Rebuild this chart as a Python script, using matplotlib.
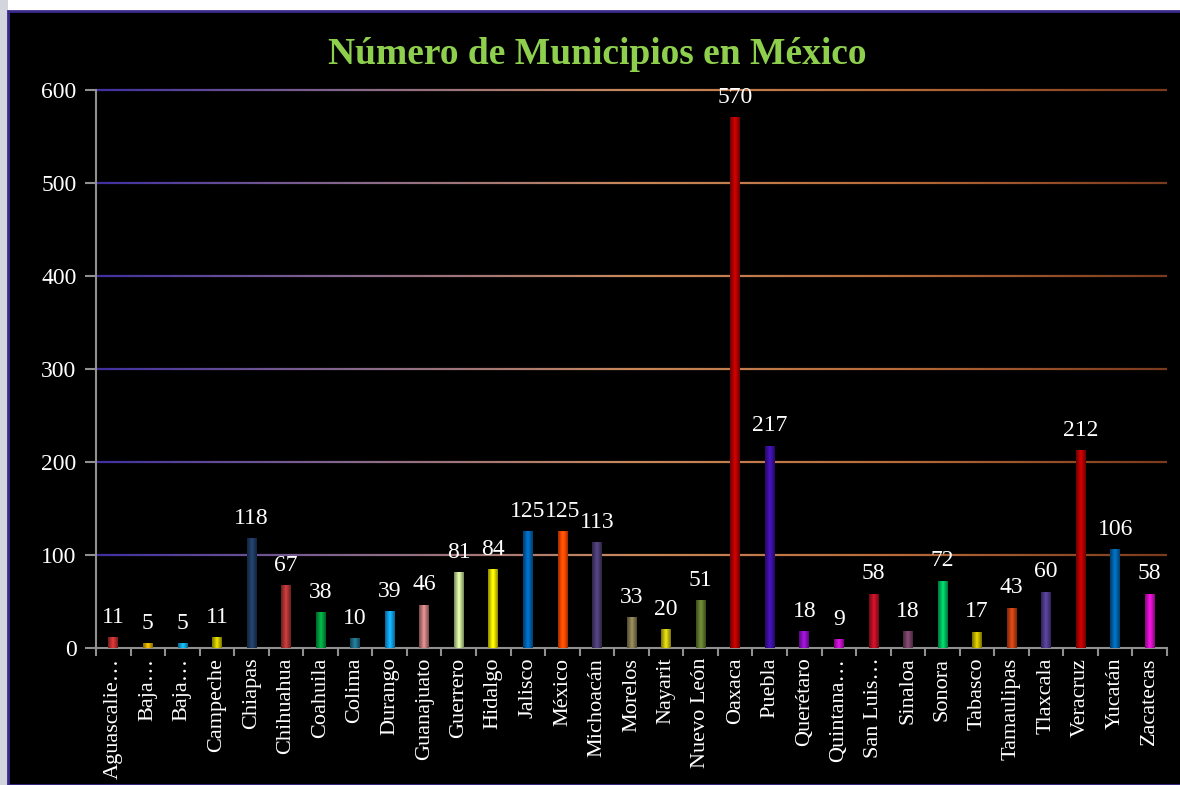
import matplotlib
matplotlib.use("Agg")
import matplotlib.pyplot as plt
import numpy as np
from matplotlib.collections import LineCollection
from matplotlib.colors import to_rgb
from matplotlib.patches import Rectangle

estados = ["Aguascalie…", "Baja…", "Baja…", "Campeche", "Chiapas", "Chihuahua",
           "Coahuila", "Colima", "Durango", "Guanajuato", "Guerrero", "Hidalgo",
           "Jalisco", "México", "Michoacán", "Morelos", "Nayarit", "Nuevo León",
           "Oaxaca", "Puebla", "Querétaro", "Quintana…", "San Luis…", "Sinaloa",
           "Sonora", "Tabasco", "Tamaulipas", "Tlaxcala", "Veracruz", "Yucatán",
           "Zacatecas"]
municipios = [11, 5, 5, 11, 118, 67, 38, 10, 39, 46, 81, 84, 125, 125, 113, 33,
              20, 51, 570, 217, 18, 9, 58, 18, 72, 17, 43, 60, 212, 106, 58]
colores = ["#c03030", "#d8a800", "#10a8e0", "#c8c000", "#1f3a62", "#b03434",
           "#00a040", "#1f6e88", "#10a0e8", "#c47c7c", "#c4dc94", "#e8e000",
           "#0064b4", "#ff4a00", "#4a3c72", "#857a50", "#c8c010", "#607a30",
           "#b40000", "#3c10a4", "#9010c4", "#c010c4", "#b81024", "#744064",
           "#00c060", "#c4b400", "#c44010", "#503c8c", "#b40000", "#0064ac",
           "#d410c4"]

plt.rcParams['font.family'] = ['Liberation Serif', 'DejaVu Serif']

fig = plt.figure(figsize=(11.8, 7.85), dpi=100)
fig.patch.set_facecolor("white")
# black panel with border
fig.patches.append(Rectangle((0, 0), 8 / 1180, 1, transform=fig.transFigure,
                             facecolor="#d4d4de", edgecolor="none", zorder=-3))
fig.patches.append(Rectangle((8 / 1180, 0), 1, 1 - 11 / 785, transform=fig.transFigure,
                             facecolor="black", edgecolor="#3a2a8a", lw=2, zorder=-2))

ax = fig.add_axes([96 / 1180, 1 - 648 / 785, (1167 - 96) / 1180, (648 - 90) / 785])
ax.set_facecolor("none")
n = len(estados)
x = np.arange(n)

# gradient gridlines
grad = ["#4030a0", "#8a6a8a", "#c8885a", "#b86a3a", "#7a3a1c"]
xs = np.linspace(-0.5, n - 0.5, 200)
stops = np.linspace(0, 1, len(grad))
rgb = np.array([to_rgb(c) for c in grad])
t = np.linspace(0, 1, len(xs) - 1)
seg_cols = np.column_stack([np.interp(t, stops, rgb[:, k]) for k in range(3)])
for yv in range(100, 700, 100):
    pts = np.column_stack([xs, np.full_like(xs, yv)])
    segs = np.stack([pts[:-1], pts[1:]], axis=1)
    ax.add_collection(LineCollection(segs, colors=seg_cols, linewidths=1.6, zorder=1,
                                     clip_on=False))

bars = ax.bar(x, municipios, width=0.28, color=colores, zorder=2)
shade = np.concatenate([np.linspace(0.6, 1.2, 50), np.linspace(1.2, 0.6, 50)])
for b, c in zip(bars, colores):
    base = np.array(to_rgb(c))
    img = np.clip(base[None, :] * shade[:, None], 0, 1)[None, :, :]
    bx, by, bw, bh = b.get_x(), b.get_y(), b.get_width(), b.get_height()
    ax.imshow(img, extent=(bx, bx + bw, by, by + bh), aspect="auto", zorder=3,
              interpolation="bilinear")
    b.set_visible(False)
ax.set_xlim(-0.5, n - 0.5)
ax.set_ylim(0, 600)

for xi, v in zip(x, municipios):
    ax.annotate(str(v), (xi, v), xytext=(0, 7), textcoords="offset points",
                ha="center", va="bottom", color="white", fontsize=17)

ax.set_xticks(x)
ax.set_xticklabels(estados, rotation=90, color="white", fontsize=16)
ax.set_xticks(np.arange(-0.5, n, 1), minor=True)
ax.tick_params(axis="x", which="major", length=0, pad=7)
ax.tick_params(axis="x", which="minor", length=6, color="#909090", width=1.5)
ax.set_yticks(range(0, 700, 100))
ax.tick_params(axis="y", length=8, color="#909090", width=1.5, labelcolor="white",
               labelsize=17, pad=6)
for s in ["top", "right"]:
    ax.spines[s].set_visible(False)
for s in ["left", "bottom"]:
    ax.spines[s].set_color("#909090")
    ax.spines[s].set_linewidth(1.5)

fig.text(597 / 1180, 1 - 55 / 785, "Número de Municipios en México", color="#8ed04e",
         fontsize=27, fontweight="bold", ha="center", va="center")

fig.savefig("out.png", dpi=100)
